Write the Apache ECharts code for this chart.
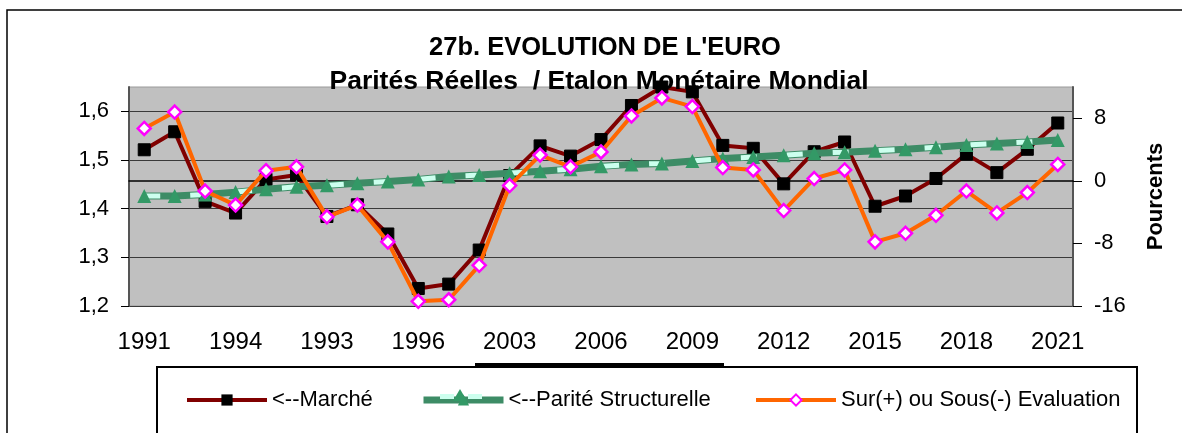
<!DOCTYPE html>
<html>
<head>
<meta charset="utf-8">
<title>27b. EVOLUTION DE L'EURO</title>
<script src="https://cdn.jsdelivr.net/npm/echarts@6/dist/echarts.min.js"></script>
<style>
  html, body { margin: 0; padding: 0; background: #fff; }
  #chart { width: 1182px; height: 433px; }
</style>
</head>
<body>
<div id="chart"></div>
<script>
// années (catégories de l'axe X)
var years = ['1991', '1992', '1993', '1994', '1995', '1996', '1997', '1998', '1999', '2000',
  '2001', '2002', '2003', '2004', '2005', '2006', '2007', '2008', '2009', '2010',
  '2011', '2012', '2013', '2014', '2015', '2016', '2017', '2018', '2019', '2020', '2021'];
// libellés affichés sous l'axe, un toutes les 3 années (tels qu'ils sont dans l'original)
var tickLabels = ['1991', '1994', '1993', '1996', '2003', '2006', '2009', '2012', '2015', '2018', '2021'];

// <--Marché (axe gauche)
var marche = [1.521, 1.558, 1.415, 1.391, 1.460, 1.469, 1.384, 1.408, 1.348, 1.236,
  1.245, 1.315, 1.468, 1.529, 1.508, 1.542, 1.612, 1.650, 1.640, 1.530,
  1.524, 1.451, 1.517, 1.537, 1.405, 1.426, 1.462, 1.512, 1.474, 1.522, 1.576];
// <--Parité Structurelle (axe gauche)
var parite = [1.426, 1.426, 1.429, 1.434, 1.440, 1.445, 1.448, 1.452, 1.456, 1.460,
  1.466, 1.469, 1.473, 1.477, 1.481, 1.487, 1.491, 1.493, 1.498, 1.503,
  1.506, 1.510, 1.514, 1.516, 1.519, 1.522, 1.526, 1.531, 1.534, 1.537, 1.541];
// Sur(+) ou Sous(-) Evaluation, en pourcents (axe droit)
var ecart = [6.7, 8.8, -1.3, -3.1, 1.3, 1.8, -4.6, -3.1, -7.8, -15.4,
  -15.2, -10.8, -0.6, 3.3, 1.8, 3.7, 8.3, 10.6, 9.5, 1.7,
  1.4, -3.8, 0.3, 1.4, -7.8, -6.7, -4.4, -1.3, -4.1, -1.5, 2.1];

var leftTicks = [1.2, 1.3, 1.4, 1.5, 1.6];
var rightTicks = [-16, -8, 0, 8];

var FONT = 'Liberation Sans, Arial, sans-serif';
var chart = echarts.init(document.getElementById('chart'), null, { renderer: 'canvas' });

var legendText = { fontFamily: FONT, fontSize: 22, color: '#000' };

var option = {
  animation: false,
  backgroundColor: '#fff',
  title: [
    {
      text: "27b. EVOLUTION DE L'EURO",
      left: 600, top: 30, textAlign: 'center',
      textStyle: { fontFamily: FONT, fontSize: 25.5, fontWeight: 'bold', color: '#000' }
    },
    {
      text: 'Parités Réelles  / Etalon Monétaire Mondial',
      left: 594, top: 63, textAlign: 'center',
      textStyle: { fontFamily: FONT, fontSize: 26.5, fontWeight: 'bold', color: '#000' }
    }
  ],
  // une légende par série pour les placer comme dans l'original
  legend: [
    {
      data: ['<--Marché'], left: 185, top: 389, padding: 0,
      itemWidth: 80, itemHeight: 14, textStyle: legendText,
      lineStyle: { width: 4 }
    },
    {
      data: ['<--Parité Structurelle'], left: 420, top: 389, padding: 0,
      itemWidth: 80, itemHeight: 14, textStyle: legendText,
      lineStyle: { color: '#3D8C66', width: 7, opacity: 1 }
    },
    {
      data: ['Sur(+) ou Sous(-) Evaluation'], left: 754, top: 389, padding: 0,
      itemWidth: 80, itemHeight: 14, textStyle: legendText,
      lineStyle: { width: 4 }
    }
  ],
  grid: {
    left: 129, right: 109, top: 87, bottom: 127,
    show: true, backgroundColor: '#C0C0C0', borderColor: '#9a9a9a', borderWidth: 1
  },
  xAxis: {
    type: 'category',
    data: years,
    boundaryGap: true,
    axisLine: { lineStyle: { color: '#000', width: 1.5 } },
    axisTick: { interval: 0, length: 8, lineStyle: { color: '#000' } },
    axisLabel: {
      interval: 2, margin: 24,
      fontFamily: FONT, fontSize: 24, color: '#000',
      formatter: function (v, i) { return tickLabels[i / 3]; }
    },
    splitLine: { show: false }
  },
  yAxis: [
    {
      type: 'value',
      min: 1.2, max: 1.65, interval: 0.1,
      axisLine: { show: true, lineStyle: { color: '#555', width: 2 } },
      axisTick: { show: true, length: 8, customValues: leftTicks, lineStyle: { color: '#000' } },
      axisLabel: {
        margin: 20, fontFamily: FONT, fontSize: 22, color: '#000',
        showMaxLabel: false,
        formatter: function (v) { return v.toFixed(1).replace('.', ','); }
      },
      splitLine: { show: true, lineStyle: { color: '#3a3a3a', width: 1 } }
    },
    {
      type: 'value',
      min: -16, max: 12, interval: 8,
      position: 'right',
      name: 'Pourcents',
      nameLocation: 'middle',
      nameRotate: 90,
      nameGap: 72,
      nameTextStyle: { fontFamily: FONT, fontSize: 22, fontWeight: 'bold', color: '#000' },
      axisLine: { show: true, lineStyle: { color: '#555', width: 2 } },
      axisTick: { show: true, length: 9, customValues: rightTicks, lineStyle: { color: '#000' } },
      axisLabel: {
        margin: 21, fontFamily: FONT, fontSize: 22, color: '#000',
        showMaxLabel: false
      },
      splitLine: { show: false }
    }
  ],
  series: [
    {
      name: '<--Marché',
      type: 'line',
      yAxisIndex: 0,
      data: marche,
      z: 2,
      symbol: 'rect', symbolSize: 12,
      itemStyle: { color: '#000', borderColor: '#000' },
      lineStyle: { color: '#800000', width: 4 }
    },
    {
      // trait épais vert de la parité
      name: 'parite-trait',
      type: 'line',
      yAxisIndex: 0,
      data: parite,
      z: 3,
      symbol: 'none',
      lineStyle: { color: '#3D8C66', width: 7 }
    },
    {
      // tirets clairs par-dessus
      name: 'parite-tirets',
      type: 'line',
      yAxisIndex: 0,
      data: parite,
      z: 3,
      symbol: 'none',
      lineStyle: { color: '#CCFFEE', width: 5, type: [16, 30] }
    },
    {
      name: '<--Parité Structurelle',
      type: 'line',
      yAxisIndex: 0,
      data: parite,
      z: 4,
      symbol: 'triangle', symbolSize: 14,
      itemStyle: { color: '#339966' },
      lineStyle: { color: '#3D8C66', width: 7, opacity: 0 }
    },
    {
      name: 'Sur(+) ou Sous(-) Evaluation',
      type: 'line',
      yAxisIndex: 1,
      data: ecart,
      z: 5,
      symbol: 'diamond', symbolSize: 13,
      itemStyle: { color: '#fff', borderColor: '#FF00FF', borderWidth: 2.5 },
      lineStyle: { color: '#FF6600', width: 4 }
    }
  ],
  graphic: [
    {
      // cadre extérieur
      type: 'rect', silent: true, z: 0,
      shape: { x: 7, y: 10, width: 1300, height: 600 },
      style: { fill: null, stroke: '#000', lineWidth: 1.5 }
    },
    {
      // cadre de la légende
      type: 'rect', silent: true, z: 0,
      shape: { x: 157, y: 367, width: 980, height: 120 },
      style: { fill: null, stroke: '#000', lineWidth: 2 }
    },
    {
      type: 'rect', silent: true, z: 0,
      shape: { x: 475, y: 363, width: 249, height: 4 },
      style: { fill: '#000' }
    },
    {
      // tirets clairs et triangle dans l'icône de légende de la parité
      type: 'rect', silent: true, z: 100,
      shape: { x: 440, y: 394, width: 14, height: 5 },
      style: { fill: '#CCFFEE' }
    },
    {
      type: 'rect', silent: true, z: 100,
      shape: { x: 468, y: 394, width: 14, height: 5 },
      style: { fill: '#CCFFEE' }
    },
    {
      type: 'polygon', silent: true, z: 101,
      shape: { points: [[460, 389], [467, 401], [453, 401]] },
      style: { fill: '#339966' }
    }
  ]
};

chart.setOption(option);
</script>
</body>
</html>
